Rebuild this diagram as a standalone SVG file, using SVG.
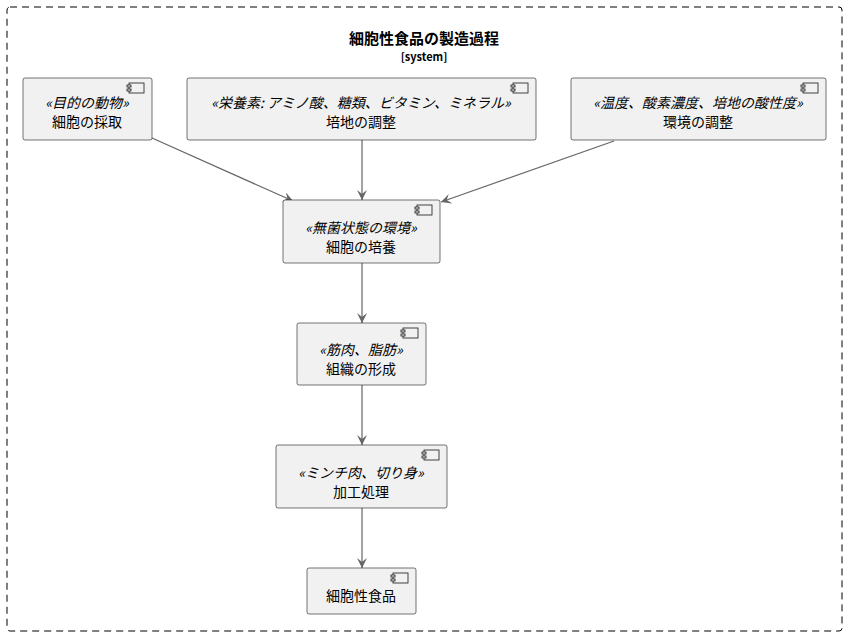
<svg xmlns="http://www.w3.org/2000/svg" width="848" height="635" viewBox="0 0 848 635">
<style>
text{font-family:"Noto Sans CJK JP","Noto Sans",sans-serif;font-size:14px;fill:#000;text-anchor:middle}
.st{font-style:italic}
.box{fill:#f1f1f1;stroke:#181818;stroke-width:0.6}
.ic{fill:#f1f1f1;stroke:#181818;stroke-width:0.8}
.e{stroke:#666;stroke-width:1.2;fill:none;marker-end:url(#a)}
</style>
<defs>
<marker id="a" markerWidth="12" markerHeight="12" refX="10" refY="5" orient="auto" markerUnits="userSpaceOnUse">
<path d="M0,0 L10,5 L0,10 L4,5 Z" fill="#666"/>
</marker>
<g id="icon"><rect class="ic" x="-15" y="5" width="15" height="10"/><rect class="ic" x="-17" y="7" width="4" height="2"/><rect class="ic" x="-17" y="11" width="4" height="2"/></g>
</defs>
<rect x="7" y="7" width="835" height="624" rx="3" fill="none" stroke="#000" stroke-dasharray="7,5"/>
<text x="424" y="44" style="font-weight:bold;font-size:15px">細胞性食品の製造過程</text>
<text x="424" y="61" style="font-weight:bold;font-size:11px">[system]</text>
<g id="connectors">
<path class="e" d="M152,138 L293,201"/>
<path class="e" d="M362,140 L362,200"/>
<path class="e" d="M614,141 L441,202"/>
<path class="e" d="M362,263 L362,323"/>
<path class="e" d="M362,385 L362,445"/>
<path class="e" d="M362,508 L362,568"/>
</g>
<g id="n1"><rect class="box" x="23" y="78" width="129" height="62" rx="2"/><use href="#icon" x="144" y="78"/><text class="st" x="87" y="108">«目的の動物»</text><text x="87" y="127">細胞の採取</text></g>
<g id="n2"><rect class="box" x="187" y="78" width="349" height="62" rx="2"/><use href="#icon" x="528" y="78"/><text class="st" x="361" y="108">«栄養素: アミノ酸、糖類、ビタミン、ミネラル»</text><text x="361" y="127">培地の調整</text></g>
<g id="n3"><rect class="box" x="571" y="78" width="255" height="62" rx="2"/><use href="#icon" x="818" y="78"/><text class="st" x="698" y="108">«温度、酸素濃度、培地の酸性度»</text><text x="698" y="127">環境の調整</text></g>
<g id="n4"><rect class="box" x="283" y="200" width="157" height="63" rx="2"/><use href="#icon" x="432" y="200"/><text class="st" x="361" y="233">«無菌状態の環境»</text><text x="361" y="252">細胞の培養</text></g>
<g id="n5"><rect class="box" x="297" y="323" width="129" height="62" rx="2"/><use href="#icon" x="418" y="323"/><text class="st" x="361" y="355">«筋肉、脂肪»</text><text x="361" y="374">組織の形成</text></g>
<g id="n6"><rect class="box" x="276" y="445" width="171" height="63" rx="2"/><use href="#icon" x="439" y="445"/><text class="st" x="361" y="478">«ミンチ肉、切り身»</text><text x="361" y="497">加工処理</text></g>
<g id="n7"><rect class="box" x="307" y="568" width="109" height="46" rx="2"/><use href="#icon" x="408" y="568"/><text x="361" y="601">細胞性食品</text></g>
</svg>
